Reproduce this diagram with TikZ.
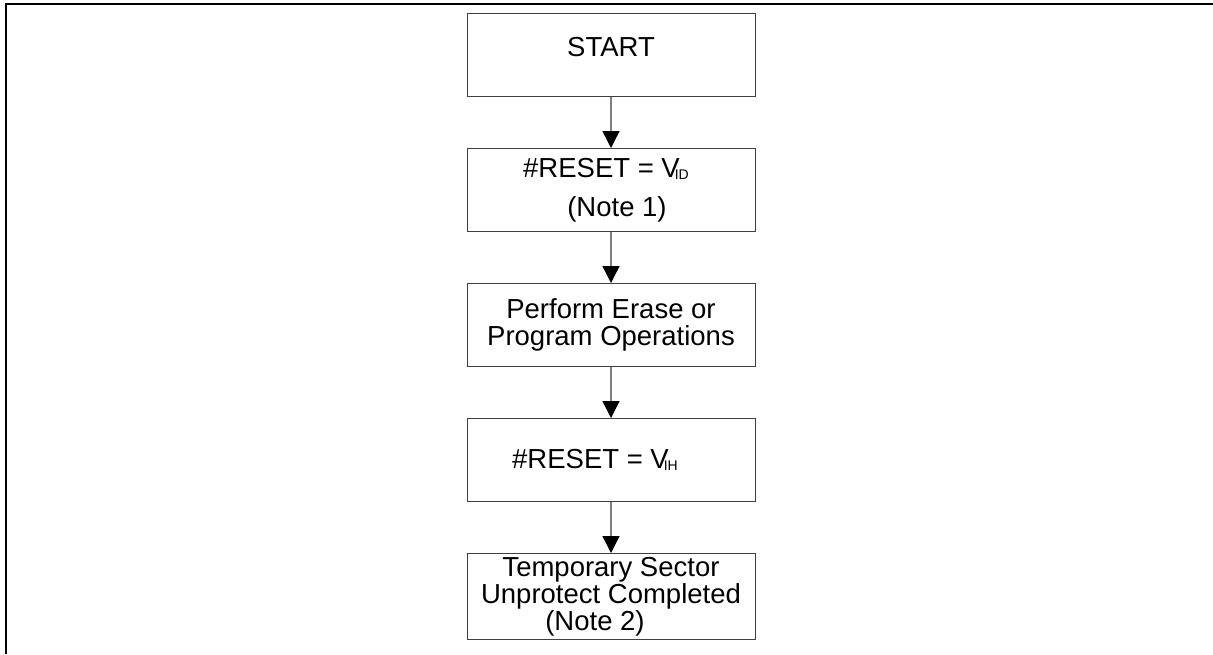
\documentclass[tikz,border=0pt]{standalone}
\usepackage{fontspec}
\setmainfont{Liberation Sans}
\usepackage{tikz}
\usetikzlibrary{positioning}
\usetikzlibrary{arrows.meta}

% voltage with a small subscript tucked under the V
\newcommand{\volt}[1]{V\kern-5pt\raisebox{-2pt}{\fontsize{14}{14}\selectfont #1}}

\begin{document}
\begin{tikzpicture}[x=1pt, y=1pt,
    stepbox/.style={draw=black!75, line width=1pt, minimum width=288pt, minimum height=83pt,
        align=center, font=\fontsize{27.5}{27}\selectfont},
    flow/.style={draw=black!50, line width=1.4pt, -{Triangle[length=17pt, width=17pt, black]}},
    node distance=51pt]
    % Page size
    \useasboundingbox (0,0) rectangle (1213,-654);

    % Frame (top and left edges only)
    \draw[line width=2pt] (6,-654) -- (6,-4) -- (1213,-4);

    % Boxes
    \node[stepbox] (start) at (611,-55) {\raisebox{8pt}[\height][\depth]{START}};
    \node[stepbox, below=of start] (resetid) {\#RESET = \volt{ID}\hspace*{10pt}\\[12pt]\hspace*{12pt}(Note 1)};
    \node[stepbox, below=of resetid] (perform) {Perform Erase or\\Program Operations};
    \node[stepbox, below=of perform] (resetih) {\#RESET = \volt{IH}\hspace*{32pt}};
    \node[stepbox, below=of resetih] (done) {Temporary Sector\\Unprotect Completed\\(Note 2)\hspace*{32pt}};

    % Arrows
    \draw[flow] (start) -- (resetid);
    \draw[flow] (resetid) -- (perform);
    \draw[flow] (perform) -- (resetih);
    \draw[flow] (resetih) -- (done);
\end{tikzpicture}
\end{document}
